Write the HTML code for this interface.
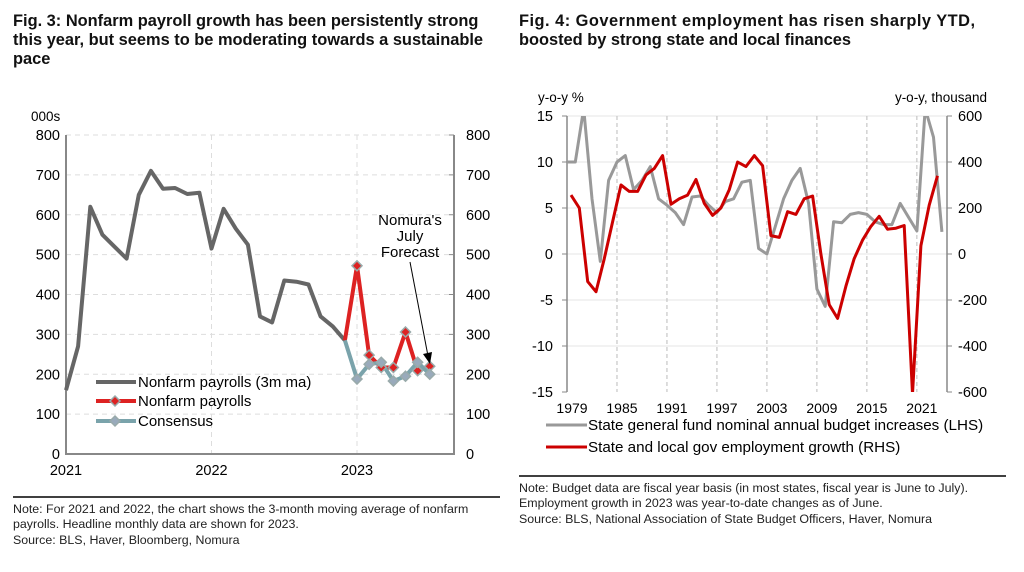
<!DOCTYPE html>
<html><head><meta charset="utf-8"><style>
html,body{margin:0;padding:0;background:#fff;width:1024px;height:572px;overflow:hidden}
svg{display:block;font-family:"Liberation Sans",Arial,sans-serif}
</style></head><body>
<svg id="s" width="1024" height="572" viewBox="0 0 1024 572" xmlns="http://www.w3.org/2000/svg">
<g font-weight="bold" font-size="16.4" fill="#111">
<text x="13" y="26">Fig. 3: Nonfarm payroll growth has been persistently strong</text>
<text x="13" y="45">this year, but seems to be moderating towards a sustainable</text>
<text x="13" y="64">pace</text>
<text x="519" y="26" textLength="456" lengthAdjust="spacing">Fig. 4: Government employment has risen sharply YTD,</text>
<text x="519" y="45" textLength="332" lengthAdjust="spacing">boosted by strong state and local finances</text>
</g>
<g id="L"></g>
<g id="R"></g>
<line x1="13" y1="497" x2="500" y2="497" stroke="#000" stroke-width="1.5"/>
<line x1="519" y1="476" x2="1006" y2="476" stroke="#000" stroke-width="1.5"/>
<g font-size="12.4" fill="#222">
<text x="13" y="513">Note: For 2021 and 2022, the chart shows the 3-month moving average of nonfarm</text>
<text x="13" y="528">payrolls. Headline monthly data are shown for 2023.</text>
<text x="13" y="544">Source: BLS, Haver, Bloomberg, Nomura</text>
<text x="519" y="492">Note: Budget data are fiscal year basis (in most states, fiscal year is June to July).</text>
<text x="519" y="507">Employment growth in 2023 was year-to-date changes as of June.</text>
<text x="519" y="523">Source: BLS, National Association of State Budget Officers, Haver, Nomura</text>
</g>
</svg>
<script>
var NS="http://www.w3.org/2000/svg";
function el(p,t,a,txt){var e=document.createElementNS(NS,t);for(var k in a)e.setAttribute(k,a[k]);if(txt!=null)e.textContent=txt;p.appendChild(e);return e;}
var L=document.getElementById('L'),R=document.getElementById('R');
function LY(v){return 454-v*0.39875}function LX(m){return 66+m*12.125}
for(var v=100;v<=800;v+=100)el(L,'line',{x1:66,x2:454,y1:LY(v),y2:LY(v),stroke:'#ddd','stroke-dasharray':'5,4'});
[12,24].forEach(function(m){el(L,'line',{x1:LX(m),x2:LX(m),y1:135,y2:454,stroke:'#ddd','stroke-dasharray':'5,4'})});
el(L,'path',{d:'M66,135V454H454V135',fill:'none',stroke:'#888','stroke-width':2});
for(var v=0;v<=800;v+=100){el(L,'text',{x:60,y:LY(v)+5,'font-size':14.5,'text-anchor':'end'},v);el(L,'text',{x:466,y:LY(v)+5,'font-size':14.5},v);
el(L,'line',{x1:449,x2:454,y1:LY(v),y2:LY(v),stroke:'#888'});}
el(L,'text',{x:31,y:121,'font-size':13.5},'000s');
[['2021',0],['2022',12],['2023',24]].forEach(function(a){el(L,'text',{x:LX(a[1]),y:475,'font-size':14.5,'text-anchor':'middle'},a[0])});
var g=[160,270,620,550,520,490,650,710,665,667,652,655,515,615,565,525,345,330,435,432,425,345,320,285];
var red=[285,472,248,217,217,306,209,220],con=[285,188,225,230,183,195,230,200];
function pth(arr,off,f,y){return arr.map(function(v,i){return(i?'L':'M')+f(i+off).toFixed(1)+','+y(v).toFixed(1)}).join('')}
el(L,'path',{d:pth(g,0,LX,LY),fill:'none',stroke:'#666','stroke-width':4,'stroke-linejoin':'round'});
el(L,'path',{d:pth(red,23,LX,LY),fill:'none',stroke:'#d22','stroke-width':4,'stroke-linejoin':'round'});
el(L,'path',{d:pth(con,23,LX,LY),fill:'none',stroke:'#7aa3ab','stroke-width':4,'stroke-linejoin':'round'});
function dia(p,x,y,f){el(p,'path',{d:'M'+x+','+(y-5)+'l5,5l-5,5l-5,-5z',fill:f,stroke:'#9aa','stroke-width':1.5})}
red.forEach(function(v,i){if(i)dia(L,LX(i+23),LY(v),'#d22')});
con.forEach(function(v,i){if(i)dia(L,LX(i+23),LY(v),'#9ab')});
el(L,'text',{x:410,y:225,'font-size':15,'text-anchor':'middle'},"Nomura's");
el(L,'text',{x:410,y:241,'font-size':15,'text-anchor':'middle'},'July');
el(L,'text',{x:410,y:257,'font-size':15,'text-anchor':'middle'},'Forecast');
el(L,'line',{x1:410,x2:428,y1:262,y2:356,stroke:'#000','stroke-width':1});
el(L,'path',{d:'M430,364l-7,-10l9,-2z',fill:'#000'});
el(L,'line',{x1:96,x2:136,y1:382,y2:382,stroke:'#666','stroke-width':4});
el(L,'line',{x1:96,x2:136,y1:401,y2:401,stroke:'#d22','stroke-width':4});dia(L,115,401,'#d22');
el(L,'line',{x1:96,x2:136,y1:421,y2:421,stroke:'#7aa3ab','stroke-width':4});dia(L,115,421,'#9ab');
el(L,'text',{x:138,y:387,'font-size':15},'Nonfarm payrolls (3m ma)');
el(L,'text',{x:138,y:406,'font-size':15},'Nonfarm payrolls');
el(L,'text',{x:138,y:426,'font-size':15},'Consensus');
function RY(v){return 254-v*9.2}function RX(i){return 567+i*8.33}
for(var v=-10;v<=15;v+=5)el(R,'line',{x1:567,x2:947,y1:RY(v),y2:RY(v),stroke:'#e6e6e6'});
for(var i=6;i<45;i+=6)el(R,'line',{x1:RX(i),x2:RX(i),y1:116,y2:392,stroke:'#bbb','stroke-dasharray':'4,3'});
el(R,'line',{x1:567,x2:567,y1:116,y2:392,stroke:'#888','stroke-width':1.5});
el(R,'line',{x1:947,x2:947,y1:116,y2:392,stroke:'#888','stroke-width':1.5});
var rl=['600','400','200','0','-200','-400','-600'];
for(var k=0;k<7;k++){var v=15-5*k;el(R,'text',{x:553,y:RY(v)+5,'font-size':14.5,'text-anchor':'end'},v);
el(R,'text',{x:958,y:RY(v)+5,'font-size':14.5},rl[k]);
el(R,'line',{x1:562,x2:567,y1:RY(v),y2:RY(v),stroke:'#888'});el(R,'line',{x1:947,x2:952,y1:RY(v),y2:RY(v),stroke:'#888'});}
el(R,'text',{x:538,y:102,'font-size':13.5},'y-o-y %');
el(R,'text',{x:987,y:102,'font-size':13.5,'text-anchor':'end'},'y-o-y, thousand');
['1979','1985','1991','1997','2003','2009','2015','2021'].forEach(function(t,k){el(R,'text',{x:RX(k*6)+5,y:413,'font-size':14,'text-anchor':'middle'},t)});
var gr=[10,10,15.8,6,-0.8,8,10,10.7,7,8,9.5,6,5.3,4.5,3.2,6.2,6.3,5.3,4.5,5.7,6,7.8,8,0.6,0,3,6,8,9.3,5.5,-3.8,-5.7,3.5,3.4,4.3,4.5,4.3,3.5,3.2,3.2,5.5,4,2.5,15.8,12.7,2.4];
var rd=[6.4,5,-3,-4.1,-0.5,3.5,7.5,6.8,6.8,8.6,9.3,10.7,5.4,6,6.4,8.1,5.5,4.2,5,7,10,9.5,10.7,9.6,2,1.8,4.6,4.3,6,6.3,0,-5.5,-7,-3.5,-0.5,1.5,3,4.1,2.7,2.8,3.1,-15.2,0.9,5.3,8.5];
var cp=el(R,'clipPath',{id:'c'});el(cp,'rect',{x:560,y:116,width:400,height:276});
el(R,'path',{d:pth(gr,0,RX,RY),fill:'none',stroke:'#999','stroke-width':3,'stroke-linejoin':'round','clip-path':'url(#c)'});
el(R,'path',{d:pth(rd,0,function(i){return 571+i*8.33},RY),fill:'none',stroke:'#c00','stroke-width':3,'stroke-linejoin':'round','clip-path':'url(#c)'});
el(R,'line',{x1:546,x2:587,y1:425,y2:425,stroke:'#999','stroke-width':3});
el(R,'line',{x1:546,x2:587,y1:447,y2:447,stroke:'#c00','stroke-width':3});
el(R,'text',{x:588,y:430,'font-size':15.2},'State general fund nominal annual budget increases (LHS)');
el(R,'text',{x:588,y:452,'font-size':15.2},'State and local gov employment growth (RHS)');
</script>
</body></html>
